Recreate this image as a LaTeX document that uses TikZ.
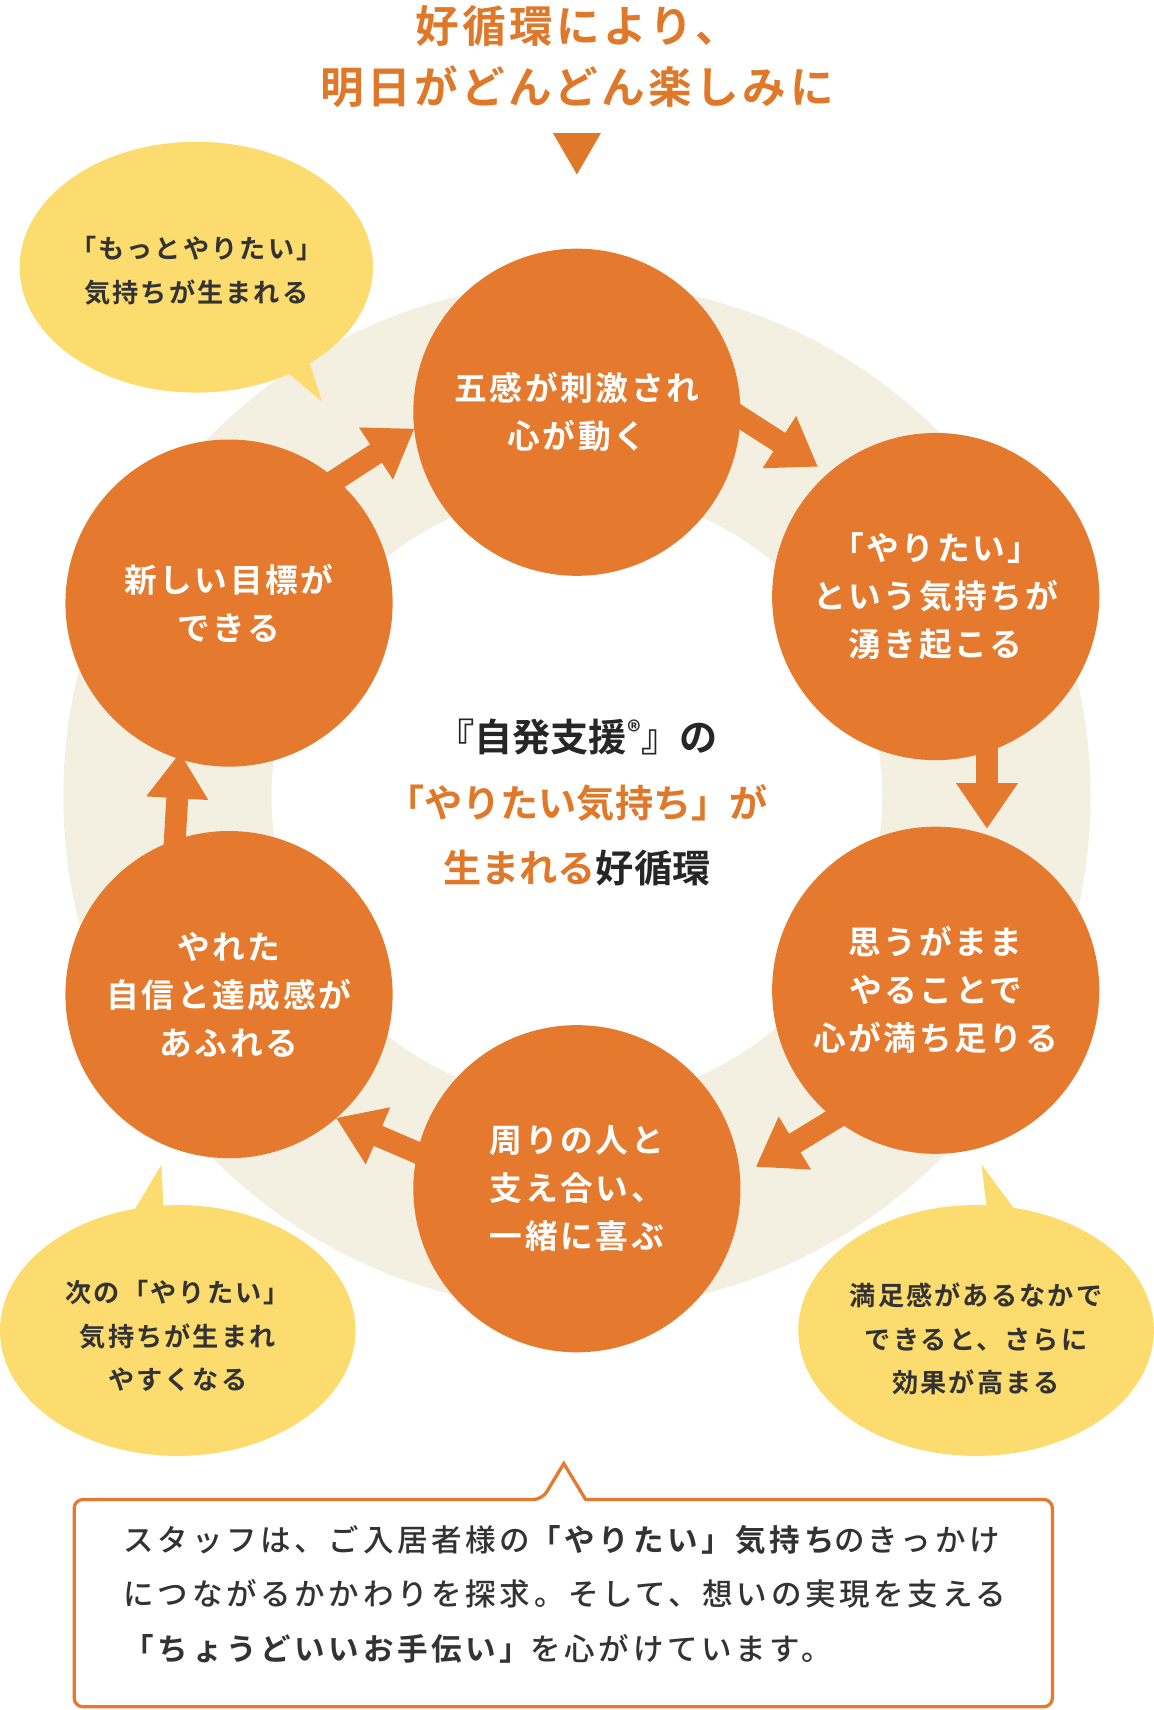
\documentclass[tikz,border=0pt]{standalone}
\usepackage{fontspec}
\setmainfont{Noto Sans CJK JP}[BoldFont={* Bold}]
\newfontfamily\jpb{Noto Sans CJK JP Bold}
\newfontfamily\jpbs{Noto Sans CJK JP Bold}[LetterSpace=8]
\newfontfamily\jpms{Noto Sans CJK JP Medium}[LetterSpace=12]
\newfontfamily\jpbm{Noto Sans CJK JP Bold}[LetterSpace=12]
\definecolor{org}{HTML}{E57A2E}
\definecolor{ttl}{HTML}{E0782A}
\definecolor{ring}{HTML}{F4F0E1}
\definecolor{yel}{HTML}{FCDC6E}
\definecolor{dk}{HTML}{333333}
\usetikzlibrary{arrows.meta}
\begin{document}
\begin{tikzpicture}[x=1pt,y=-1pt,
 circ/.style={circle,fill=org,minimum size=300pt,inner sep=0pt,text=white,align=center,font=\jpbs\fontsize{30}{44}\selectfont},
 arr/.style={draw=org,line width=20pt,-{Triangle[length=42pt,width=54pt]}},
 bub/.style={fill=yel},
 btxt/.style={text=dk,align=center,font=\jpbs\fontsize{24}{40}\selectfont}]
\useasboundingbox (0,0) rectangle (1058,1568);
% title
\node[text=ttl,font=\jpbs\fontsize{40}{56}\selectfont,align=center] (title) at (529,52) {好循環により、\\明日がどんどん楽しみに};
\fill[color=ttl] (507,122) -- (551,122) -- (529,160) -- cycle;
% ring
\fill[ring,even odd rule] (529,730) circle (471) (529,730) circle (280);
% bubbles
\fill[bub] (180,245) ellipse (162 and 115);
\fill[bub] (250,330) -- (295,368) -- (280,320) -- cycle;
\fill[bub] (163,1220) ellipse (163 and 115);
\fill[bub] (120,1115) -- (148,1068) -- (150,1110) -- cycle;
\fill[bub] (895,1220) ellipse (163 and 115);
\fill[bub] (905,1110) -- (900,1068) -- (935,1115) -- cycle;
\node[btxt] (ba) at (180,248) {「もっとやりたい」\\気持ちが生まれる};
\node[btxt] (bb) at (163,1225) {次の「やりたい」\\気持ちが生まれ\\やすくなる};
\node[btxt] (bc) at (895,1228) {満足感があるなかで\\できると、さらに\\効果が高まる};
% circles
\node[circ] (c1) at (529,378) {五感が刺激され\\心が動く};
\node[circ] (c2) at (858,547) {「やりたい」\\という気持ちが\\湧き起こる};
\node[circ] (c3) at (858,908) {思うがまま\\やることで\\心が満ち足りる};
\node[circ] (c4) at (529,1090) {周りの人と\\支え合い、\\一緒に喜ぶ};
\node[circ] (c5) at (210,912) {やれた\\自信と達成感が\\あふれる};
\node[circ] (c6) at (210,553) {新しい目標が\\できる};
% arrows
\coordinate (a1s) at (672,378); \coordinate (a1e) at (750,428);
\coordinate (a2s) at (905,680); \coordinate (a2e) at (905,760);
\coordinate (a3s) at (775,1020); \coordinate (a3e) at (693,1070);
\coordinate (a4s) at (385,1058); \coordinate (a4e) at (308,1025);
\coordinate (a5s) at (160,775); \coordinate (a5e) at (165,690);
\coordinate (a6s) at (300,445); \coordinate (a6e) at (380,393);
\draw[arr] (a1s) -- (a1e);
\draw[arr] (a2s) -- (a2e);
\draw[arr] (a3s) -- (a3e);
\draw[arr] (a4s) -- (a4e);
\draw[arr] (a5s) -- (a5e);
\draw[arr] (a6s) -- (a6e);
% center
\node[font=\jpb\fontsize{35}{60}\selectfont,align=center,text=black!85] (ctr) at (529,736) {『自発支援\textsuperscript{®}』の\\\textcolor{ttl}{「やりたい気持ち」が}\\\textcolor{ttl}{生まれる}好循環};
% bottom box
\draw[org,line width=3pt,fill=white,rounded corners=8pt] (68,1375) -- (497,1375) [sharp corners] -- (517,1342) -- (537,1375) [rounded corners=8pt] -- (965,1375) -- (965,1565) -- (68,1565) -- cycle;
\node[anchor=north west,text=dk,align=left,font=\jpms\fontsize{28}{50}\selectfont] (btx) at (110,1395) {スタッフは、ご入居者様の{\jpbm「やりたい」気持ち}のきっかけ\\につながるかかわりを探求。そして、想いの実現を支える\\{\jpbm「ちょうどいいお手伝い」}を心がけています。};
\end{tikzpicture}
\end{document}
